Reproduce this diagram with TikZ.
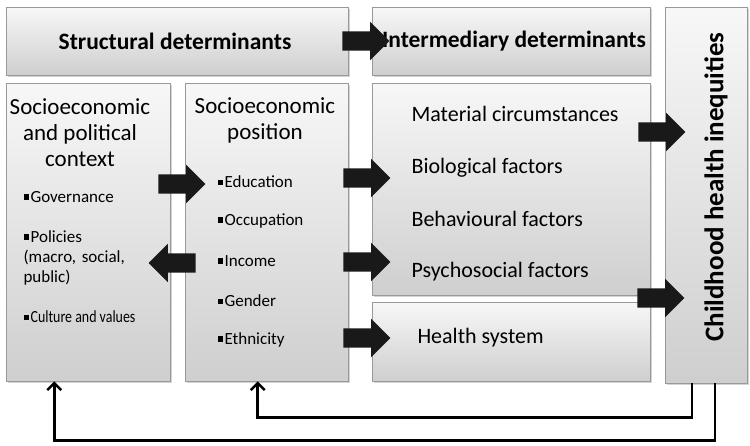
\documentclass[tikz,border=0pt]{standalone}
\usepackage{fontspec}
\usepackage{graphicx}
\setmainfont{Carlito}
\usetikzlibrary{shapes.arrows,arrows.meta,shadows,positioning}
\newcommand\sqbul{\rule[0.3ex]{0.7ex}{0.7ex}\hspace{0.08em}}
\tikzset{
  panel/.style={draw=gray!80, top color=gray!6, bottom color=gray!38, inner sep=0pt,
    anchor=north west, drop shadow={shadow xshift=1.5pt, shadow yshift=-1.5pt, opacity=0.35}},
  blockarrow/.style={single arrow, fill=black!90, inner xsep=0pt, inner ysep=9.5pt,
    minimum height=47pt, single arrow head extend=9.5pt},
  loopline/.style={line width=2.6pt, -{Straight Barb[length=7pt,width=14pt,line width=2.4pt]}},
  head/.style={font=\fontsize{23.5}{26}\selectfont\bfseries},
  title/.style={font=\fontsize{23}{26}\selectfont, align=center},
  item/.style={font=\fontsize{22}{24}\selectfont, anchor=west},
  bul/.style={font=\fontsize{17}{20}\selectfont, anchor=west, align=left},
}
\begin{document}
\begin{tikzpicture}[x=1pt,y=-1pt]
  \useasboundingbox (0,0) rectangle (750,445);
  % boxes
  \node[panel, minimum width=342pt, minimum height=68pt] (struct) at (6,7) {};
  \node[panel, minimum width=278pt, minimum height=68pt] (inter) at (372,7) {};
  \node[panel, minimum width=82pt, minimum height=376pt] (child) at (665,7) {};
  \node[panel, minimum width=164pt, minimum height=298pt] (context) at (6,83) {};
  \node[panel, minimum width=163pt, minimum height=298pt] (position) at (185,83) {};
  \node[panel, minimum width=278pt, minimum height=212pt] (factors) at (372,83) {};
  \node[panel, minimum width=278pt, minimum height=79pt] (health) at (372,302) {};
  % headings
  \node[head] (structtxt) at (175,41) {Structural determinants};
  \node[head] (intertxt) at (514,41) {Intermediary determinants};
  \node[rotate=90, font=\fontsize{27}{30}\selectfont\bfseries] (childtxt) at (716,187) {Childhood health inequities};
  \node[title] (contexttxt) at (80,133) {Socioeconomic\\and political\\context};
  \node[title] (positiontxt) at (265,120) {Socioeconomic\\position};
  % context items
  \node[bul] (gov) at (20,197) {\sqbul Governance};
  \node[bul, text width=130pt] (pol) at (20,258) {\sqbul Policies\\(macro, social,\\public)};
  \node[bul] (cul) at (20,317) {\sqbul\scalebox{0.82}[1]{Culture and values}};
  % position items
  \node[bul] (edu) at (214,182) {\sqbul Education};
  \node[bul] (occ) at (214,221) {\sqbul Occupation};
  \node[bul] (inc) at (214,261) {\sqbul Income};
  \node[bul] (gen) at (214,301) {\sqbul Gender};
  \node[bul] (eth) at (214,340) {\sqbul Ethnicity};
  % intermediary items
  \node[item] (mat) at (408,114) {Material circumstances};
  \node[item] (bio) at (408,168) {Biological factors};
  \node[item] (beh) at (408,219) {Behavioural factors};
  \node[item] (psy) at (408,272) {Psychosocial factors};
  \node[item] (hs) at (414,338) {Health system};
  % block arrows
  \node[blockarrow] (a1) at (361,41) {};
  \node[blockarrow] (a2) at (177,184) {};
  \node[blockarrow, shape border rotate=180] (a3) at (177,263) {};
  \node[blockarrow] (a4) at (362,178) {};
  \node[blockarrow] (a5) at (362,262) {};
  \node[blockarrow] (a6) at (362,338) {};
  \node[blockarrow] (a7) at (657,132) {};
  \node[blockarrow] (a8) at (656,298) {};
  % feedback loops
  \draw[loopline] ([xshift=27pt]child.south west) -- ++(0,34) -| ([xshift=-9pt]position.south);
  \draw[loopline] ([xshift=50pt]child.south west) -- ++(0,57) -| ([xshift=-34pt]context.south);
\end{tikzpicture}
\end{document}
